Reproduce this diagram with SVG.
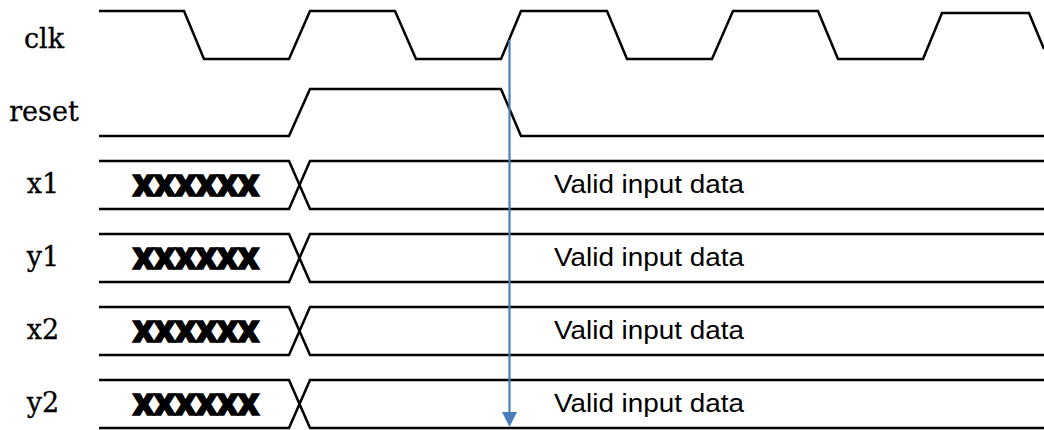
<svg xmlns="http://www.w3.org/2000/svg" width="1044" height="430" viewBox="0 0 1044 430">
  <style>
    .wave { fill: none; stroke: #000; stroke-width: 2.5; stroke-linejoin: miter; }
    .lbl { font-family: "DejaVu Serif", "Liberation Serif", serif; font-size: 27px; fill: #000; text-anchor: middle; stroke: #000; stroke-width: 0.3; }
    .xx { font-family: "Roboto", "Inter", "DejaVu Sans", sans-serif; font-weight: 900; font-size: 29px; fill: #000; stroke: #000; stroke-width: 1.6; stroke-linejoin: miter; }
    .val { font-family: "Liberation Sans", Arial, sans-serif; font-size: 26px; fill: #000; }
    .conn { stroke: #4A7EBB; stroke-width: 2.2; fill: none; }
  </style>
  <rect width="1044" height="430" fill="#fff"/>

  <g id="clk">
    <text class="lbl" x="44" y="48">clk</text>
    <path class="wave" d="M99,11 H184 L204,59 H289 L310,11 H395 L416,59 H501 L521,11 H607 L627,59 H712 L733,11 H818 L838,59 H923 L942,13 H1029 L1044,49"/>
  </g>

  <g id="reset">
    <text class="lbl" x="44" y="121">reset</text>
    <path class="wave" d="M99,136 H289 L310,89 H501 L521,136 H1044"/>
  </g>

  <g id="x1">
    <text class="lbl" x="43" y="193">x1</text>
    <path class="wave" d="M99,161 H289 L310,209 H1044 M99,209 H289 L310,161 H1044"/>
    <text class="xx" x="133" y="196" textLength="126" lengthAdjust="spacingAndGlyphs">XXXXXX</text>
    <text class="val" x="554" y="193" textLength="190" lengthAdjust="spacingAndGlyphs">Valid input data</text>
  </g>

  <g id="y1">
    <text class="lbl" x="43" y="266">y1</text>
    <path class="wave" d="M99,234 H289 L310,282 H1044 M99,282 H289 L310,234 H1044"/>
    <text class="xx" x="133" y="269" textLength="126" lengthAdjust="spacingAndGlyphs">XXXXXX</text>
    <text class="val" x="554" y="266" textLength="190" lengthAdjust="spacingAndGlyphs">Valid input data</text>
  </g>

  <g id="x2">
    <text class="lbl" x="43" y="339">x2</text>
    <path class="wave" d="M99,307 H289 L310,355 H1044 M99,355 H289 L310,307 H1044"/>
    <text class="xx" x="133" y="342" textLength="126" lengthAdjust="spacingAndGlyphs">XXXXXX</text>
    <text class="val" x="554" y="339" textLength="190" lengthAdjust="spacingAndGlyphs">Valid input data</text>
  </g>

  <g id="y2">
    <text class="lbl" x="43" y="412">y2</text>
    <path class="wave" d="M99,380 H289 L310,428 H1044 M99,428 H289 L310,380 H1044"/>
    <text class="xx" x="133" y="415" textLength="126" lengthAdjust="spacingAndGlyphs">XXXXXX</text>
    <text class="val" x="554" y="412" textLength="190" lengthAdjust="spacingAndGlyphs">Valid input data</text>
  </g>

  <g id="connectors">
    <path class="conn" d="M509.5,40 V413"/>
    <path d="M502,412 L517,412 L509.5,427 Z" fill="#4A7EBB"/>
  </g>
</svg>
